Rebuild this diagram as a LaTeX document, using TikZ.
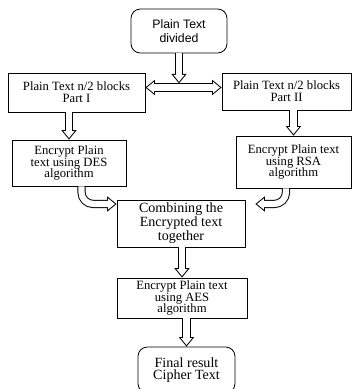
\documentclass[tikz,border=0pt]{standalone}
\usepackage{fontspec}
\setmainfont{Liberation Serif}
\newfontfamily\arialfont{Liberation Sans}
\usetikzlibrary{arrows.meta}

\tikzset{
  box/.style={draw, line width=0.7pt, align=center, inner sep=1pt,
    font=\fontsize{10.8}{10}\selectfont},
  bigbox/.style={box, font=\fontsize{12}{10.6}\selectfont},
  roundbox/.style={box, rounded corners=8pt},
  hollow/.style={line width=7pt, shorten >=#1,
    -{Triangle[length=8pt,width=13pt,line width=0pt]},
    postaction={draw=white, line width=5.3pt, shorten >=#1+1.34pt,
      -{Triangle[length=5.8pt,width=9.4pt,line width=0pt]}}},
  hollow/.default=0pt,
  hollowboth/.style={line width=7pt,
    {Triangle[length=8pt,width=13pt,line width=0pt]}-{Triangle[length=8pt,width=13pt,line width=0pt]},
    postaction={draw=white, line width=5.3pt, shorten <=1.34pt, shorten >=1.34pt,
      {Triangle[length=5.8pt,width=9.4pt,line width=0pt]}-{Triangle[length=5.8pt,width=9.4pt,line width=0pt]}}}
}

\begin{document}
\begin{tikzpicture}

\useasboundingbox (0,0) rectangle (10.56,-11.67);
\clip (0,0) rectangle (10.56,-11.67);

\node[roundbox, minimum width=2.88cm, minimum height=1.32cm,
  font=\arialfont\fontsize{10.5}{12}\selectfont] (plain) at (5.37,-0.93) {Plain Text\\divided};
\node[box, minimum width=4.11cm, minimum height=1.17cm] (partI) at (2.295,-2.775) {Plain Text n/2 blocks\\Part I};
\node[box, minimum width=3.87cm, minimum height=1.11cm] (partII) at (8.595,-2.745) {Plain Text n/2 blocks\\Part II};
\node[box, minimum width=3.42cm, minimum height=1.38cm] (des) at (2.07,-4.89) {Encrypt Plain\\text using DES\\algorithm};
\node[box, minimum width=3.45cm, minimum height=1.56cm] (rsa) at (8.805,-4.86) {Encrypt Plain text\\using RSA\\algorithm};
\node[bigbox, minimum width=3.84cm, minimum height=1.41cm] (combine) at (5.43,-6.705) {Combining the\\Encrypted text\\together};
\node[box, minimum width=3.9cm, minimum height=1.2cm] (aes) at (5.46,-8.94) {Encrypt Plain text\\using AES\\algorithm};
\node[bigbox, rounded corners=8pt, minimum width=2.91cm, minimum height=1.38cm] (final) at (5.595,-11.1) {Final result\\Cipher Text};

\coordinate (split) at (5.37,-2.5);

\draw[hollowboth] ([yshift=0.15cm]partI.east) -- ([yshift=0.15cm]partI.east -| partII.west);
\draw[hollow] (plain.south) -- (split);
\draw[hollow] (des.north |- partI.south) -- (des.north);
\draw[hollow] (rsa.north |- partII.south) -- (rsa.north);
\draw[hollow, rounded corners=10pt] ([xshift=0.375cm]des.south) |- ([yshift=0.585cm]combine.west);
\draw[hollow=0.3cm, rounded corners=10pt] ([xshift=-0.225cm]rsa.south) |- ([yshift=0.585cm]combine.east);
\draw[hollow] (aes.north |- combine.south) -- (aes.north);
\draw[hollow] (final.north |- aes.south) -- (final.north);

\end{tikzpicture}
\end{document}
